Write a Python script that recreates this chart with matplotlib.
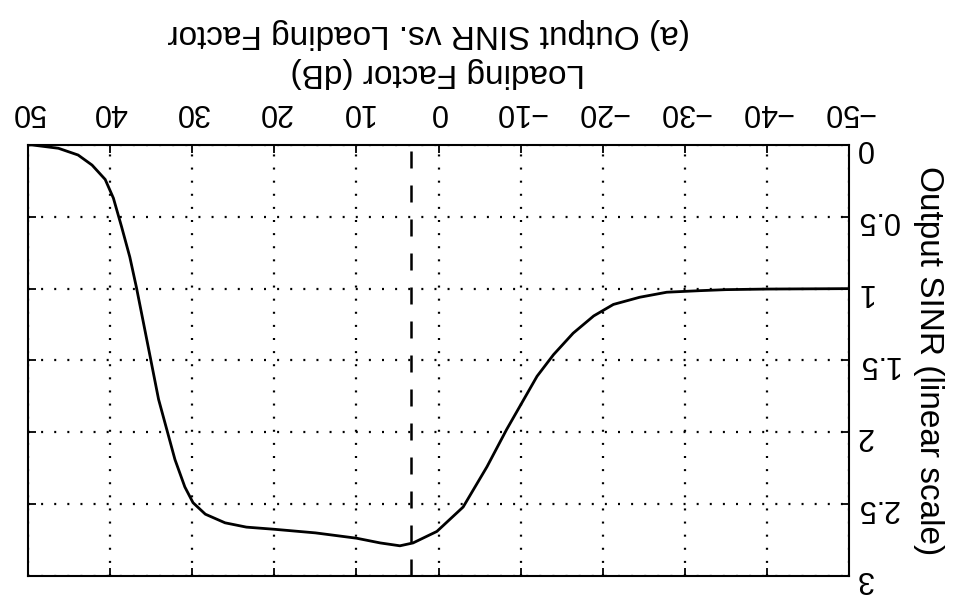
import matplotlib
matplotlib.use("Agg")
import matplotlib.pyplot as plt

plt.rcParams['font.family'] = ['Liberation Sans', 'DejaVu Sans']

loading_db = [50, 49.5, 46.3, 43.9, 42.2, 40.6, 39.6, 38.6, 37.6, 36.8, 36.0, 35.1,
              34.1, 33.1, 32.1, 30.9, 29.9, 28.4, 26.0, 23.4, 20, 15, 10, 7.1,
              4.7, 3.1, 0.2, -3.0, -5.9, -8.3, -9.9, -12.0, -14.0, -16.4, -18.9,
              -21.3, -24.5, -27.8, -31.9, -35, -40, -50]
sinr = [0, 0.0, 0.023, 0.07, 0.14, 0.24, 0.37, 0.57, 0.78, 0.99, 1.22, 1.48,
        1.77, 1.98, 2.19, 2.38, 2.49, 2.57, 2.63, 2.66, 2.675, 2.70, 2.737, 2.77,
        2.79, 2.77, 2.69, 2.52, 2.24, 1.98, 1.82, 1.61, 1.46, 1.31, 1.19,
        1.11, 1.06, 1.025, 1.014, 1.007, 1.003, 1.0]
marker_db = 3.3
x_ticks = [-50, -40, -30, -20, -10, 0, 10, 20, 30, 40, 50]
y_ticks = [0, 0.5, 1, 1.5, 2, 2.5, 3]
y_tick_labels = ['0', '0.5', '1', '1.5', '2', '2.5', '3']

fig = plt.figure(figsize=(9.56, 6.04), dpi=100)
ax = fig.add_axes([0.0293, 0.0464, 0.8588, 0.7136])

ax.plot(loading_db, sinr, color='black', lw=2.0)
ax.axvline(marker_db, color='black', lw=1.8, dashes=(6.8, 6.8))

# whole figure is shown rotated by 180 degrees
ax.set_xlim(50, -50)
ax.set_ylim(3, 0)
ax.set_xticks(x_ticks)
ax.set_yticks(y_ticks)
ax.set_yticklabels(y_tick_labels)

ax.xaxis.tick_top()
ax.xaxis.set_label_position('top')
ax.yaxis.tick_right()
ax.yaxis.set_label_position('right')
ax.tick_params(direction='in', length=6, width=1.3, labelsize=22,
               top=True, bottom=True, left=True, right=True)
ax.tick_params(axis='x', pad=13)
ax.tick_params(axis='y', pad=5)
for lab in ax.get_xticklabels() + ax.get_yticklabels():
    lab.set_rotation(180)

ax.grid(True, color='black', lw=1.6, dashes=(0.9, 5.0))
for s in ax.spines.values():
    s.set_linewidth(1.5)

ax.set_xlabel('Loading Factor (dB)', fontsize=24, rotation=180,
              va='center', ha='center')
ax.xaxis.set_label_coords(0.4988, 1.167)
ax.set_ylabel('Output SINR (linear scale)', fontsize=24, rotation=270,
              va='center', ha='center')
ax.yaxis.set_label_coords(1.097, 0.5)
fig.text(0.448, 0.944, '(a) Output SINR vs. Loading Factor', fontsize=24,
         rotation=180, ha='center', va='center')

fig.savefig('out.png', dpi=100)
